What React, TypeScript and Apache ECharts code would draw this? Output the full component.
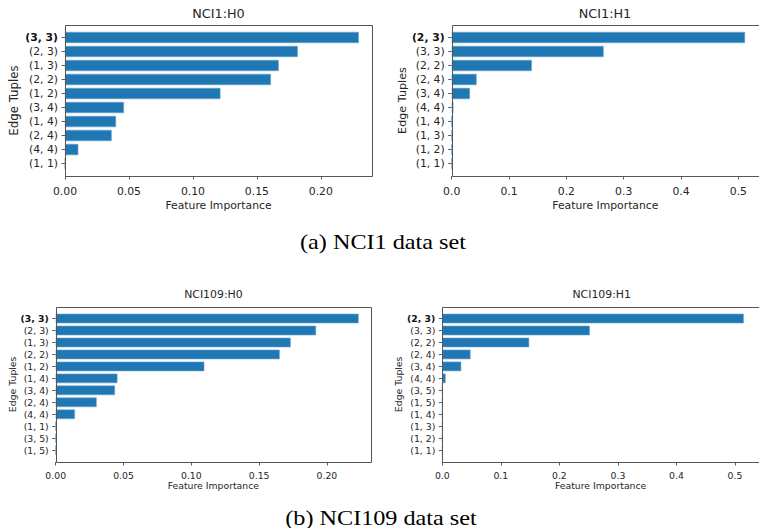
import React, { useEffect, useRef } from "react";
import * as echarts from "echarts";

// ---- data ----
const panelTitles = ["NCI1:H0", "NCI1:H1", "NCI109:H0", "NCI109:H1"];

const nci1H0Categories = ["(3, 3)", "(2, 3)", "(1, 3)", "(2, 2)", "(1, 2)", "(3, 4)", "(1, 4)", "(2, 4)", "(4, 4)", "(1, 1)"];
const nci1H0Values = [0.2297, 0.182, 0.1671, 0.161, 0.1215, 0.0461, 0.0399, 0.0365, 0.0104, 0];

const nci1H1Categories = ["(2, 3)", "(3, 3)", "(2, 2)", "(2, 4)", "(3, 4)", "(4, 4)", "(1, 4)", "(1, 3)", "(1, 2)", "(1, 1)"];
const nci1H1Values = [0.5117, 0.265, 0.1398, 0.0435, 0.0319, 0.003, 0, 0, 0, 0];

const nci109H0Categories = ["(3, 3)", "(2, 3)", "(1, 3)", "(2, 2)", "(1, 2)", "(1, 4)", "(3, 4)", "(2, 4)", "(4, 4)", "(1, 1)", "(3, 5)", "(1, 5)"];
const nci109H0Values = [0.2234, 0.192, 0.1733, 0.1652, 0.1096, 0.0455, 0.0437, 0.0302, 0.0142, 0, 0, 0];

const nci109H1Categories = ["(2, 3)", "(3, 3)", "(2, 2)", "(2, 4)", "(3, 4)", "(4, 4)", "(3, 5)", "(1, 5)", "(1, 4)", "(1, 3)", "(1, 2)", "(1, 1)"];
const nci109H1Values = [0.515, 0.252, 0.1484, 0.0482, 0.0323, 0.0057, 0, 0, 0, 0, 0, 0];

const h0Ticks = [0, 0.05, 0.1, 0.15, 0.2];
const h1Ticks = [0, 0.1, 0.2, 0.3, 0.4, 0.5];

const xAxisTitle = "Feature Importance";
const yAxisTitle = "Edge Tuples";
const captions = ["(a) NCI1 data set", "(b) NCI109 data set"];

// ---- layout (positions / styles) ----
const FONT = "DejaVu Sans";
const BAR = "#1f77b4";
const INK = "#262626";

const panels = [
  { cats: nci1H0Categories, vals: nci1H0Values, ticks: h0Ticks, dec: 2,
    x: 65, y: 25, w: 307, h: 151, xMax: 0.24, font: 10.8, yNameFont: 11.8, titleFont: 12.8, titleX: 218.5, titleY: 14.3,
    yNameGap: 45, xNameGap: 23.5, xLabelMargin: 9.5 },
  { cats: nci1H1Categories, vals: nci1H1Values, ticks: h1Ticks, dec: 1,
    x: 451.7, y: 25, w: 308, h: 151, xMax: 0.536, font: 10.8, yNameFont: 11.2, titleFont: 12.8, titleX: 605, titleY: 14.3,
    yNameGap: 44, xNameGap: 23.5, xLabelMargin: 9.5 },
  { cats: nci109H0Categories, vals: nci109H0Values, ticks: h0Ticks, dec: 2,
    x: 55.7, y: 306.7, w: 315.3, h: 155.3, xMax: 0.2325, font: 9.3, yNameFont: 9.3, titleFont: 10.9, titleX: 213.4, titleY: 296,
    yNameGap: 39, xNameGap: 19, xLabelMargin: 8.5 },
  { cats: nci109H1Categories, vals: nci109H1Values, ticks: h1Ticks, dec: 1,
    x: 442.3, y: 306.7, w: 318.7, h: 155.3, xMax: 0.541, font: 9.3, yNameFont: 9.3, titleFont: 10.9, titleX: 601.7, titleY: 296,
    yNameGap: 38, xNameGap: 19, xLabelMargin: 8.5 },
];

function buildOption() {
  const grid: any[] = [];
  const xAxis: any[] = [];
  const yAxis: any[] = [];
  const series: any[] = [];
  const title: any[] = [];
  const graphic: any[] = [];

  panels.forEach((p, i) => {
    const n = p.cats.length;
    const range = (n - 0.2) * 1.1;
    const unit = p.h / range;
    const gap = ((range - n) / 2) * unit;

    grid.push({ left: p.x, top: p.y + gap, width: p.w, height: n * unit, containLabel: false });

    xAxis.push({
      type: "value",
      gridIndex: i,
      min: 0,
      max: p.xMax,
      offset: gap,
      axisLine: { show: false },
      splitLine: { show: false },
      axisTick: { show: true, length: 3.5, lineStyle: { color: "#333", width: 0.8 }, customValues: p.ticks },
      axisLabel: {
        customValues: p.ticks,
        formatter: (v: number) => v.toFixed(p.dec),
        color: INK,
        fontFamily: FONT,
        fontSize: p.font,
        margin: p.xLabelMargin,
      },
      name: xAxisTitle,
      nameLocation: "middle",
      nameGap: p.xNameGap,
      nameTextStyle: { color: INK, fontFamily: FONT, fontSize: p.font },
    });

    yAxis.push({
      type: "category",
      gridIndex: i,
      data: p.cats,
      inverse: true,
      axisLine: { show: false },
      axisTick: { show: true, alignWithLabel: true, length: 3.5, lineStyle: { color: "#333", width: 0.8 } },
      axisLabel: {
        interval: 0,
        color: INK,
        fontFamily: FONT,
        fontSize: p.font,
        margin: 7,
        formatter: (v: string, idx: number) => (idx === 0 ? `{b|${v}}` : v),
        rich: { b: { fontWeight: "bold", color: "#111", fontFamily: FONT, fontSize: p.font } },
      },
      name: yAxisTitle,
      nameLocation: "middle",
      nameGap: p.yNameGap,
      nameRotate: 90,
      nameTextStyle: { color: INK, fontFamily: FONT, fontSize: p.yNameFont },
    });

    series.push({
      type: "bar",
      xAxisIndex: i,
      yAxisIndex: i,
      data: p.vals,
      barCategoryGap: "20%",
      itemStyle: { color: BAR, borderColor: "#6fa3cc", borderWidth: 0.6 },
      silent: true,
    });

    title.push({
      text: panelTitles[i],
      left: p.titleX,
      top: p.titleY - p.titleFont * 0.6,
      textAlign: "center",
      padding: 0,
      textStyle: { color: INK, fontFamily: FONT, fontSize: p.titleFont, fontWeight: "normal" },
    });

    graphic.push({
      type: "rect",
      shape: { x: Math.round(p.x) + 0.5, y: Math.round(p.y) + 0.5, width: Math.round(p.w), height: Math.round(p.h) },
      style: { fill: "none", stroke: "#555", lineWidth: 1 },
      z: 10,
      silent: true,
    });
  });

  const capPos = [
    { x: 383, y: 241.5 },
    { x: 381, y: 517 },
  ];
  captions.forEach((c, i) => {
    graphic.push({
      type: "text",
      x: capPos[i].x,
      y: capPos[i].y,
      scaleX: 1.1,
      style: {
        text: c,
        fontFamily: "Liberation Serif",
        fontSize: 22,
        fill: "#000",
        align: "center",
        verticalAlign: "middle",
        textAlign: "center",
        textVerticalAlign: "middle",
      },
      silent: true,
    });
  });

  return {
    animation: false,
    backgroundColor: "#fff",
    title,
    grid,
    xAxis,
    yAxis,
    series,
    graphic,
  };
}

export default function App() {
  const ref = useRef<HTMLDivElement>(null);
  useEffect(() => {
    if (!ref.current) return;
    const chart = echarts.init(ref.current, undefined, { renderer: "svg" });
    chart.setOption(buildOption() as any);
    return () => chart.dispose();
  }, []);
  return (
    <div
      ref={ref}
      style={{ position: "absolute", left: 0, top: 0, width: 759, height: 528, background: "#fff" }}
    />
  );
}
